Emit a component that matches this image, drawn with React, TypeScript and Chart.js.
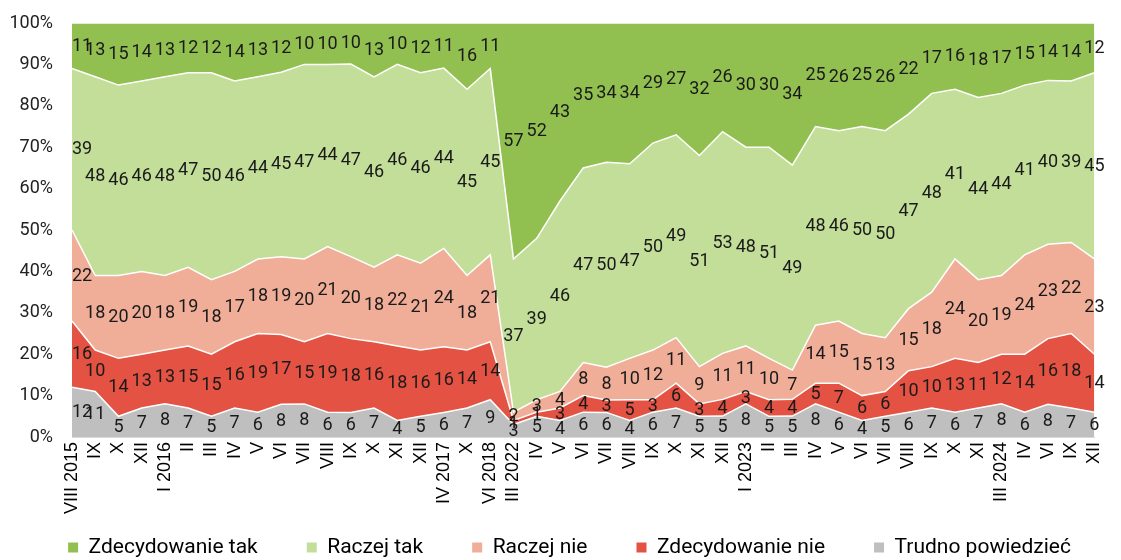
import React, { useEffect, useRef } from 'react';
import { Chart, registerables } from 'chart.js';

Chart.register(...registerables);

const categories = [
  'VIII 2015', 'IX', 'X', 'XII', 'I 2016', 'II', 'III', 'IV', 'V', 'VI', 'VII', 'VIII', 'IX', 'X', 'XI', 'XII', 'IV 2017', 'X', 'VI 2018',
  'III 2022', 'IV', 'V', 'VI', 'VII', 'VIII', 'IX', 'X', 'XI', 'XII',
  'I 2023', 'II', 'III', 'IV', 'V', 'VI', 'VII', 'VIII', 'IX', 'X', 'XI',
  'III 2024', 'IV', 'VI', 'IX', 'XII',
];

const zdecydowanieTak = [11, 13, 15, 14, 13, 12, 12, 14, 13, 12, 10, 10, 10, 13, 10, 12, 11, 16, 11,
  57, 52, 43, 35, 34, 34, 29, 27, 32, 26,
  30, 30, 34, 25, 26, 25, 26, 22, 17, 16, 18,
  17, 15, 14, 14, 12];

const raczejTak = [39, 48, 46, 46, 48, 47, 50, 46, 44, 45, 47, 44, 47, 46, 46, 46, 44, 45, 45,
  37, 39, 46, 47, 50, 47, 50, 49, 51, 53,
  48, 51, 49, 48, 46, 50, 50, 47, 48, 41, 44,
  44, 41, 40, 39, 45];

const raczejNie = [22, 18, 20, 20, 18, 19, 18, 17, 18, 19, 20, 21, 20, 18, 22, 21, 24, 18, 21,
  2, 3, 4, 8, 8, 10, 12, 11, 9, 11,
  11, 10, 7, 14, 15, 15, 13, 15, 18, 24, 20,
  19, 24, 23, 22, 23];

const zdecydowanieNie = [16, 10, 14, 13, 13, 15, 15, 16, 19, 17, 15, 19, 18, 16, 18, 16, 16, 14, 14,
  1, 1, 3, 4, 3, 5, 3, 6, 3, 4,
  3, 4, 4, 5, 7, 6, 6, 10, 10, 13, 11,
  12, 14, 16, 18, 14];

const trudnoPowiedziec = [12, 11, 5, 7, 8, 7, 5, 7, 6, 8, 8, 6, 6, 7, 4, 5, 6, 7, 9,
  3, 5, 4, 6, 6, 4, 6, 7, 5, 5,
  8, 5, 5, 8, 6, 4, 5, 6, 7, 6, 7,
  8, 6, 8, 7, 6];

// bottom-to-top stacking order
const seriesNames = ['Trudno powiedzieć', 'Zdecydowanie nie', 'Raczej nie', 'Raczej tak', 'Zdecydowanie tak'];
const seriesColors = ['#BFBFBF', '#E35242', '#F0AE98', '#C3DE98', '#92C050'];

const yTicks = [0, 10, 20, 30, 40, 50, 60, 70, 80, 90, 100];

export default function App() {
  const ref = useRef<HTMLCanvasElement>(null);

  useEffect(() => {
    document.body.style.margin = '0';
    const raw = [trudnoPowiedziec, zdecydowanieNie, raczejNie, raczejTak, zdecydowanieTak];
    const sums = categories.map((_, j) => raw.reduce((s, a) => s + a[j], 0));

    const datasets = raw.map((arr, i) => ({
      label: seriesNames[i],
      data: arr.map((v, j) => (v / sums[j]) * 100),
      backgroundColor: seriesColors[i],
      borderColor: '#ffffff',
      borderWidth: 1.5,
      fill: i === 0 ? 'origin' : '-1',
      pointRadius: 0,
      pointHoverRadius: 0,
      tension: 0,
    }));

    const labelPlugin = {
      id: 'bandLabels',
      afterInit(chart: any) {
        // keep all legend items on one row despite the wide item spacing
        const lg = chart.legend;
        if (lg && !lg.__patched) {
          const orig = lg.update.bind(lg);
          lg.update = (maxWidth: number, maxHeight: number, margins: any) => orig(maxWidth + 200, maxHeight, margins);
          lg.__patched = true;
        }
      },
      afterLayout(chart: any) {
        // let axis labels extend beyond their fitted boxes without being clipped,
        // and keep a gap between the y tick labels and the plot
        chart.scales.y.left = 0;
        chart.scales.y.right = chart.chartArea.left - 19;
        chart.scales.x.bottom = chart.height;
        if (chart.legend) {
          chart.legend.left -= 24;
          chart.legend.right += 20;
        }
      },
      afterDatasetsDraw(chart: any) {
        const { ctx, chartArea } = chart;
        const yScale = chart.scales.y;
        ctx.save();
        ctx.font = '18px Roboto';
        ctx.fillStyle = '#1a1a1a';
        ctx.textAlign = 'center';
        ctx.textBaseline = 'middle';
        chart.data.datasets.forEach((_ds: any, i: number) => {
          const meta = chart.getDatasetMeta(i);
          const prev = i > 0 ? chart.getDatasetMeta(i - 1) : null;
          meta.data.forEach((pt: any, j: number) => {
            const top = pt.y;
            const bottom = prev ? prev.data[j].y : yScale.getPixelForValue(0);
            const text = String(raw[i][j]);
            const w = ctx.measureText(text).width;
            let x = pt.x;
            if (x - w / 2 < chartArea.left) x = chartArea.left + w / 2;
            ctx.fillText(text, x, (top + bottom) / 2 + 0.5);
          });
        });
        ctx.restore();
      },
    };

    const chart = new Chart(ref.current!, {
      type: 'line',
      data: { labels: categories, datasets: datasets as any },
      options: {
        animation: false,
        responsive: false,
        events: [],
        layout: { padding: { top: 23, left: 33, right: 11, bottom: 0 } },
        plugins: {
          tooltip: { enabled: false },
          legend: {
            position: 'bottom',
            reverse: true,
            labels: {
              boxWidth: 10,
              boxHeight: 10,
              padding: 49,
              color: '#000',
              font: { family: 'Roboto', size: 21 },
              generateLabels: (c: any) =>
                (Chart.defaults.plugins.legend.labels.generateLabels as any)(c).map((l: any) => ({
                  ...l,
                  lineWidth: 0,
                  strokeStyle: 'rgba(0,0,0,0)',
                })),
            },
          },
        },
        scales: {
          x: {
            offset: false,
            grid: { display: false, drawTicks: false },
            border: { display: true, color: '#d9d9d9' },
            ticks: {
              autoSkip: false,
              minRotation: 90,
              maxRotation: 90,
              padding: 5,
              color: '#000',
              font: { family: 'Liberation Sans', size: 18 },
            },
            afterFit: (s: any) => { s.height = 51; },
          },
          y: {
            stacked: true,
            min: 0,
            max: 100,
            grid: { display: false, drawTicks: false },
            border: { display: false },
            afterBuildTicks: (s: any) => { s.ticks = yTicks.map((v) => ({ value: v })); },
            ticks: {
              padding: 0,
              color: '#222',
              font: { family: 'Roboto', size: 18 },
              callback: (v: any) => `${v}%`,
            },
            afterFit: (s: any) => { s.width = 39; },
          },
        },
      },
      plugins: [labelPlugin],
    });
    return () => chart.destroy();
  }, []);

  return (
    <div style={{ width: 1121, height: 560, overflow: 'hidden', background: '#fff' }}>
      <canvas ref={ref} width={1121} height={568} style={{ display: 'block' }} />
    </div>
  );
}
